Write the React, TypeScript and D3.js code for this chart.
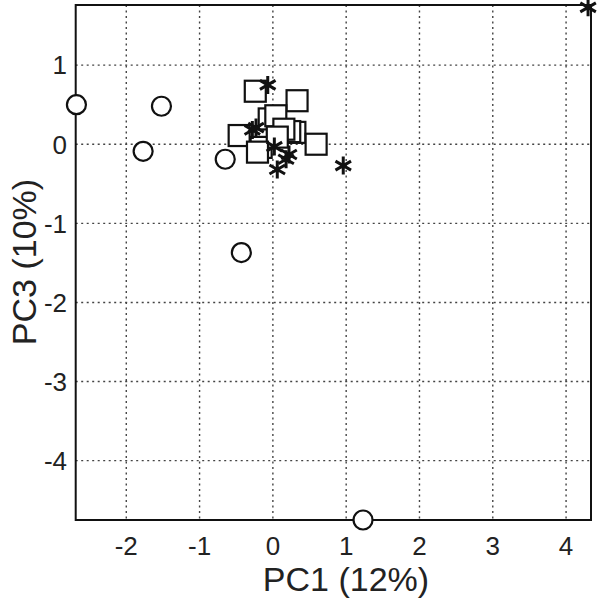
import React from "react";
import * as d3 from "d3";

const xTicks = [-2, -1, 0, 1, 2, 3, 4];
const yTicks = [1, 0, -1, -2, -3, -4];

const circleX = [-2.68, -1.52, -1.77, -0.65, -0.43, 1.23];
const circleY = [0.5, 0.48, -0.09, -0.19, -1.37, -4.75];

// drawn back to front
const squareX = [-0.05, 0.3, 0.23, -0.16, -0.24, 0.33, 0.04, -0.46, 0.15, 0.06, 0.59, -0.21];
const squareY = [0.32, 0.15, 0.16, -0.04, 0.67, 0.55, 0.36, 0.11, 0.19, 0.09, 0.0, -0.1];

const starX = [-0.07, -0.23, -0.28, 0.02, 0.22, 0.18, 0.06, 0.96, 4.3];
const starY = [0.75, 0.21, 0.18, -0.03, -0.13, -0.19, -0.32, -0.27, 1.73];

export default function App() {
  const W = 600, H = 599;
  const L = 75.7, R = 591, T = 5, B = 520;
  const x = d3.scaleLinear().domain([-2.69, 4.34]).range([L, R]);
  const y = d3.scaleLinear().domain([1.76, -4.75]).range([T, B]);
  const font = "Liberation Sans, Arial, sans-serif";
  const sq = 21;
  const sr = 9;
  const starPath = (cx: number, cy: number) => {
    const parts: string[] = [];
    for (let k = 0; k < 3; k++) {
      const a = Math.PI / 2 + (k * Math.PI) / 3;
      const dx = Math.cos(a) * sr, dy = Math.sin(a) * sr;
      parts.push(`M${cx - dx},${cy - dy}L${cx + dx},${cy + dy}`);
    }
    return parts.join("");
  };
  return (
    <svg width={W} height={H} style={{ position: "absolute", left: 0, top: 0, background: "#fff" }}>
      <g stroke="#444" strokeWidth={1.4} strokeDasharray="2,3.5">
        {xTicks.map((t) => (
          <line key={"gx" + t} x1={x(t)} x2={x(t)} y1={T} y2={B} />
        ))}
        {yTicks.map((t) => (
          <line key={"gy" + t} x1={L} x2={R} y1={y(t)} y2={y(t)} />
        ))}
      </g>
      <rect x={L} y={T} width={R - L} height={B - T} fill="none" stroke="#111" strokeWidth={2} />
      <g fontFamily={font} fontSize={26} fill="#222">
        {xTicks.map((t) => (
          <text key={"tx" + t} x={x(t)} y={555} textAnchor="middle">{t}</text>
        ))}
        {yTicks.map((t) => (
          <text key={"ty" + t} x={67} y={y(t)} dy="0.36em" textAnchor="end">{t}</text>
        ))}
      </g>
      <text x={346} y={591} textAnchor="middle" fontFamily={font} fontSize={34} fill="#222">PC1 (12%)</text>
      <text transform={`translate(36,262) rotate(-90)`} textAnchor="middle" fontFamily={font} fontSize={34} fill="#222">PC3 (10%)</text>
      <g fill="#fff" stroke="#111" strokeWidth={2.2}>
        {squareX.map((v, i) => (
          <rect key={"s" + i} x={x(v) - sq / 2} y={y(squareY[i]) - sq / 2} width={sq} height={sq} />
        ))}
        {circleX.map((v, i) => (
          <circle key={"c" + i} cx={x(v)} cy={y(circleY[i])} r={9.5} />
        ))}
      </g>
      <g stroke="#111" strokeWidth={3} fill="none">
        {starX.map((v, i) => (
          <path key={"a" + i} d={starPath(x(v), y(starY[i]))} />
        ))}
      </g>
    </svg>
  );
}
